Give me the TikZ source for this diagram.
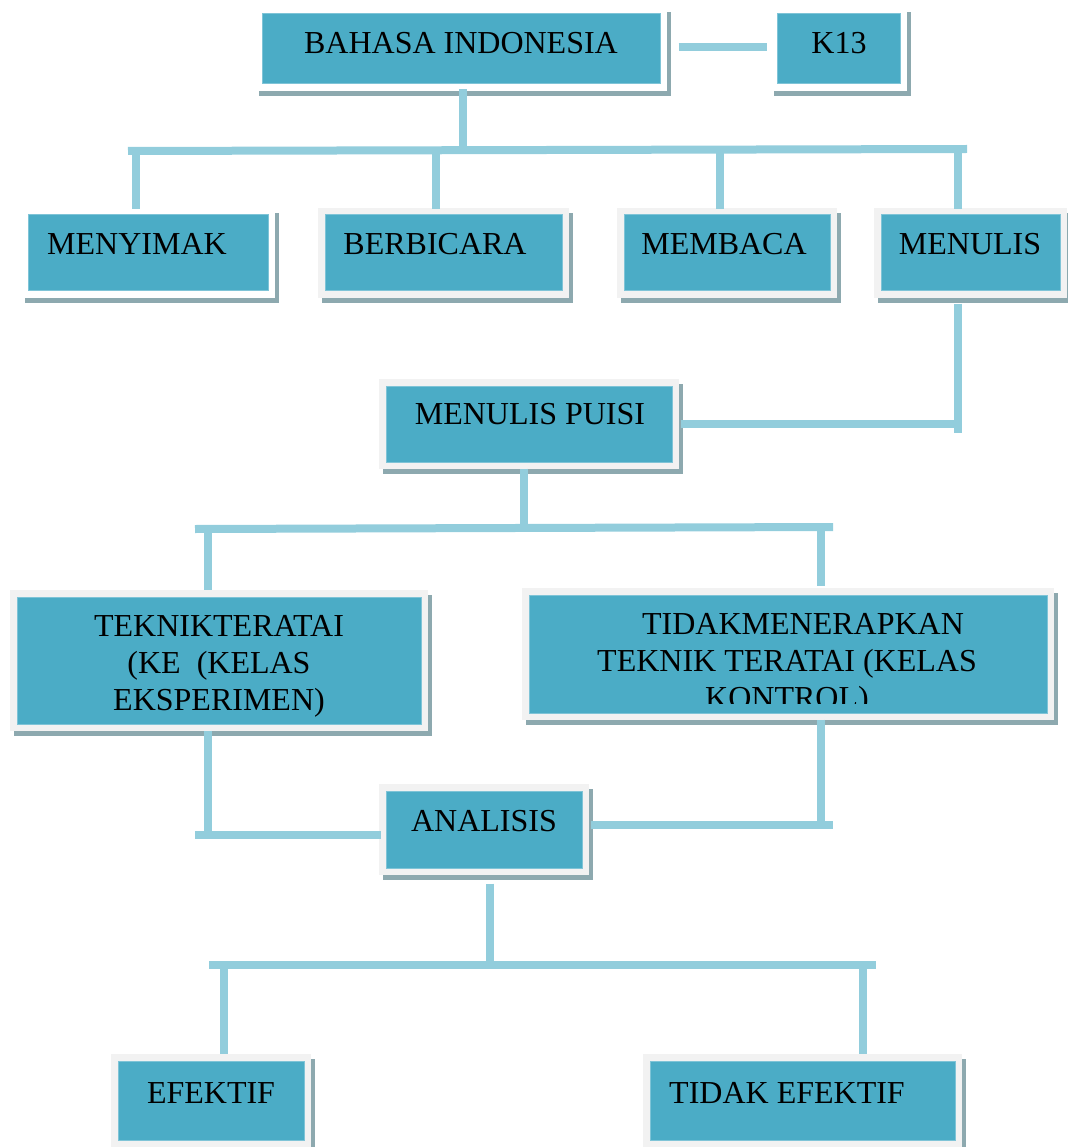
\documentclass[tikz,border=0pt]{standalone}
\usepackage{fontspec}
\setmainfont{Liberation Serif}
\definecolor{tosca}{HTML}{4BACC6}
\definecolor{toscamuda}{HTML}{7FC4D7}
\definecolor{garisbiru}{HTML}{92CDDC}
\definecolor{abu}{HTML}{F2F2F2}
\definecolor{bayangan}{HTML}{8DA9AF}
\tikzset{
  kotak/.style={fill=tosca, draw=toscamuda, line width=1pt, inner sep=0pt},
  garis/.style={draw=garisbiru, line width=8pt},
  teks/.style={font=\fontsize{32}{37}\selectfont, inner sep=0pt, anchor=base, align=center},
}
% bayangan, bingkai, lalu kotak bernama
\newcommand{\kotakbayang}[6][abu]{%
  \fill[bayangan] ({#3-3},{#4-2}) rectangle ({#5+11},{#6+12});
  \fill[#1] ({#3-7},{#4-7}) rectangle ({#5+7},{#6+7});
  \node[kotak, minimum width={(#5-#3)*1pt}, minimum height={(#6-#4)*1pt}] (#2) at ({(#3+#5)/2},{(#4+#6)/2}) {};
}

\begin{document}
\begin{tikzpicture}[x=1pt, y=-1pt]
\useasboundingbox (0,0) rectangle (1067,1147);

\kotakbayang[white]{bahasa}{262}{14}{660}{84}
\kotakbayang[white]{k13}{777}{14}{900}{84}
\kotakbayang[white]{menyimak}{28}{215}{268}{291}
\kotakbayang{berbicara}{325}{215}{562}{291}
\kotakbayang{membaca}{624}{215}{830}{291}
\kotakbayang{menulis}{881}{215}{1060}{291}
\kotakbayang{puisi}{386}{386}{672}{462}
\kotakbayang{teknik}{17}{597}{421}{724}
\kotakbayang{tidak}{529}{595}{1047}{713}
\kotakbayang{analisis}{386}{791}{582}{868}
\kotakbayang{efektif}{118}{1061}{304}{1140}
\kotakbayang{tdkefektif}{650}{1061}{955}{1140}

\node[teks] (t-bahasa) at (461,54) {BAHASA INDONESIA};
\node[teks] (t-k13) at (839,54) {K13};
\node[teks] (t-menyimak) at (137,255) {MENYIMAK};
\node[teks] (t-berbicara) at (435,255) {BERBICARA};
\node[teks] (t-membaca) at (724,255) {MEMBACA};
\node[teks] (t-menulis) at (970,255) {MENULIS};
\node[teks] (t-puisi) at (530,424) {MENULIS PUISI};
\node[teks] (t-teknik) at (219,710) {TEKNIKTERATAI\\(KE~~(KELAS\\EKSPERIMEN)};
\begin{scope}
  \clip (tidak.north west) rectangle ([yshift=10pt]tidak.south east);
  \node[teks] (t-tidak) at (787,708) {\hspace*{32pt}TIDAKMENERAPKAN\\TEKNIK TERATAI (KELAS\\KONTROL)};
\end{scope}
\node[teks] (t-analisis) at (484,831) {ANALISIS};
\node[teks] (t-efektif) at (211,1103) {EFEKTIF};
\node[teks] (t-tdkefektif) at (787,1103) {TIDAK EFEKTIF};

% baris atas
\coordinate (bus1-l) at (128,151);
\coordinate (bus1-r) at (967,149);
\draw[garis] ([xshift=18pt,yshift=2pt]bahasa.east) -- ([xshift=-10pt,yshift=2pt]k13.west);
\draw[garis] ([xshift=2pt,yshift=-5pt]bahasa.south) -- ([xshift=2pt]bahasa.south |- bus1-l);
\draw[garis] (bus1-l) -- (bus1-r);
\foreach \n/\dx in {menyimak/-12, berbicara/-8, membaca/-7, menulis/-13}
  \draw[garis] ([xshift=\dx pt]\n.north |- bus1-l) -- ([xshift=\dx pt,yshift=5pt]\n.north);

% menulis ke menulis puisi
\coordinate (j1) at (958,433);
\draw[garis] ([yshift=-12pt]menulis.south -| j1) -- (j1);
\draw[garis] ([xshift=8pt]puisi.east) -- ([xshift=4pt]puisi.east -| j1);

% menulis puisi ke dua kelas
\coordinate (bus2-l) at (195,529);
\coordinate (bus2-r) at (833,527);
\draw[garis] ([xshift=-5pt,yshift=-6pt]puisi.south) -- ([xshift=-5pt]puisi.south |- bus2-l);
\draw[garis] (bus2-l) -- (bus2-r);
\draw[garis] ([xshift=-11pt]teknik.north |- bus2-l) -- ([xshift=-11pt,yshift=7pt]teknik.north);
\draw[garis] ([xshift=33pt]tidak.north |- bus2-r) -- ([xshift=33pt,yshift=9pt]tidak.north);

% dua kelas ke analisis
\coordinate (j2) at (208,839);
\coordinate (j2l) at (195,835);
\draw[garis] ([yshift=-6pt]teknik.south -| j2) -- (j2);
\draw[garis] (j2l) -- ([xshift=-5pt]analisis.west |- j2l);
\coordinate (j3) at (821,829);
\coordinate (j3r) at (833,825);
\draw[garis] ([yshift=-6pt]tidak.south -| j3) -- (j3);
\draw[garis] ([xshift=8pt]analisis.east |- j3r) -- (j3r);

% analisis ke hasil
\coordinate (bus3-l) at (209,965);
\coordinate (bus3-r) at (876,965);
\draw[garis] ([xshift=6pt,yshift=-15pt]analisis.south) -- ([xshift=6pt]analisis.south |- bus3-l);
\draw[garis] (bus3-l) -- (bus3-r);
\draw[garis] ([xshift=13pt]efektif.north |- bus3-l) -- ([xshift=13pt,yshift=7pt]efektif.north);
\draw[garis] ([xshift=60pt]tdkefektif.north |- bus3-r) -- ([xshift=60pt,yshift=7pt]tdkefektif.north);
\end{tikzpicture}
\end{document}
